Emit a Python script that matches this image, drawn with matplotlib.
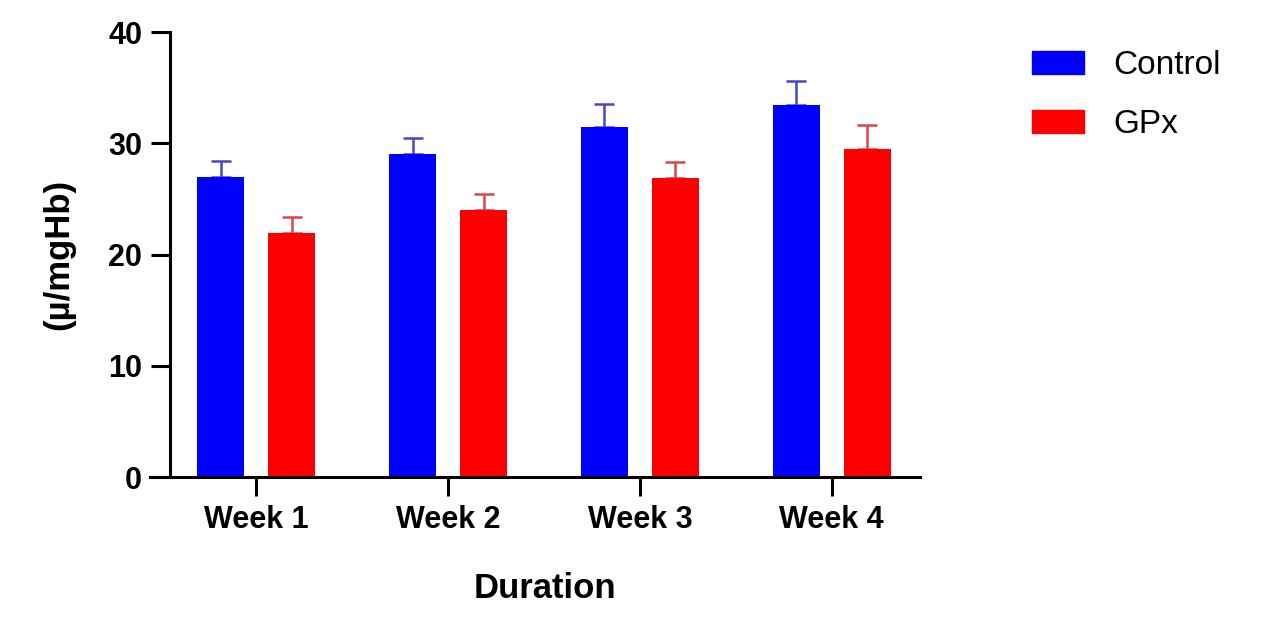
import numpy as np
import matplotlib.pyplot as plt
from matplotlib.patches import Patch

plt.rcParams['font.family'] = ['Liberation Sans', 'DejaVu Sans']

# values
weeks = ['Week 1', 'Week 2', 'Week 3', 'Week 4']
control = [27.0, 29.0, 31.5, 33.4]
control_err = [1.4, 1.45, 2.05, 2.2]
gpx = [21.9, 24.0, 26.9, 29.45]
gpx_err = [1.45, 1.4, 1.4, 2.15]

fig = plt.figure(figsize=(12.83, 6.23), dpi=100)
ax = fig.add_axes([0.1325, 0.2343, 0.5845, 0.7143])

x = np.arange(len(weeks))
w = 0.245
off = 0.185

ax.bar(x - off, control, w, color='#0000ff', zorder=2)
ax.bar(x + off, gpx, w, color='#ff0000', zorder=2)

# only the upper half of the error bars is shown
ax.errorbar(x - off, control, yerr=[np.zeros(4), control_err], fmt='none',
            ecolor='#4646c8', elinewidth=1.8, capsize=7, capthick=1.8, zorder=1)
ax.errorbar(x + off, gpx, yerr=[np.zeros(4), gpx_err], fmt='none',
            ecolor='#d64848', elinewidth=1.8, capsize=7, capthick=1.8, zorder=1)

ax.set_xlim(-0.45, 3.46)
ax.set_ylim(0, 40)
ax.set_yticks([0, 10, 20, 30, 40])
ax.set_xticks(x)
ax.set_xticklabels(weeks)

for s in ['top', 'right']:
    ax.spines[s].set_visible(False)
ax.spines['left'].set_linewidth(2.2)
ax.spines['bottom'].set_linewidth(2.2)
ax.spines['bottom'].set_bounds(-0.45 - 20 / 191.7, 3.46)

ax.tick_params(axis='both', width=2.2, length=14, labelsize=22, pad=6)
for lab in ax.get_xticklabels() + ax.get_yticklabels():
    lab.set_fontweight('bold')

ax.set_ylabel('(µ/mgHb)', fontsize=25, fontweight='bold', labelpad=24)
ax.set_xlabel('Duration', fontsize=25, fontweight='bold', labelpad=27)

handles = [Patch(color='#0000ff', label='Control'), Patch(color='#ff0000', label='GPx')]
fig.legend(handles=handles, loc='upper left', bbox_to_anchor=(0.781, 0.968),
           frameon=False, fontsize=24, handlelength=1.55, handleheight=0.7,
           handletextpad=0.9, labelspacing=0.85)

fig.savefig('out.png', dpi=100)
